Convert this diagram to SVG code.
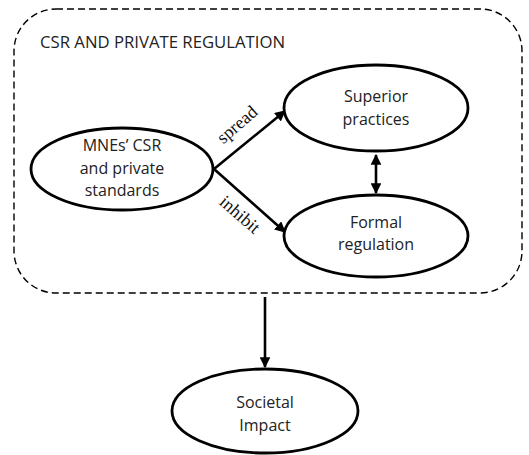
<svg xmlns="http://www.w3.org/2000/svg" width="529" height="455" viewBox="0 0 529 455">
<style>
.node{fill:#fff;stroke:#000;stroke-width:2.8}
.t{font-family:"Open Sans","Liberation Sans",sans-serif;font-size:16px;fill:#222;text-anchor:middle}
.lbl{font-family:"Liberation Serif","Times New Roman",serif;font-size:18px;fill:#111;text-anchor:middle}
.c{stroke:#000;stroke-width:2.6;fill:none}
</style>
<defs>
<marker id="ah" viewBox="0 0 10 10" refX="9" refY="5" markerWidth="4.2" markerHeight="4.2" orient="auto-start-reverse" markerUnits="strokeWidth">
<path d="M0,0 L10,5 L0,10 z" fill="#000"/>
</marker>
</defs>
<g id="container">
<rect x="14" y="9" width="508" height="284" rx="42" ry="42" fill="none" stroke="#000" stroke-width="1.4" stroke-dasharray="7,4"/>
<text x="40" y="48" font-family="Open Sans,Liberation Sans,sans-serif" font-size="15.5" fill="#222" textLength="245" lengthAdjust="spacingAndGlyphs">CSR AND PRIVATE REGULATION</text>
</g>
<g id="connectors">
<line class="c" x1="214" y1="169" x2="285" y2="111" marker-end="url(#ah)"/>
<line class="c" x1="214" y1="169" x2="285" y2="232" marker-end="url(#ah)"/>
<line class="c" x1="376" y1="155" x2="376" y2="193" marker-start="url(#ah)" marker-end="url(#ah)"/>
<line class="c" x1="265" y1="297" x2="265" y2="367" marker-end="url(#ah)"/>
<text class="lbl" transform="translate(241,129) rotate(-41)">spread</text>
<text class="lbl" transform="translate(236,219) rotate(41)">inhibit</text>
</g>
<g id="mnes">
<ellipse class="node" cx="122" cy="169" rx="91" ry="41"/>
<text class="t" x="122" y="151">MNEs’ CSR</text>
<text class="t" x="122" y="174">and private</text>
<text class="t" x="122" y="196">standards</text>
</g>
<g id="superior">
<ellipse class="node" cx="376" cy="108" rx="92" ry="43"/>
<text class="t" x="376" y="102">Superior</text>
<text class="t" x="376" y="125">practices</text>
</g>
<g id="formal">
<ellipse class="node" cx="376" cy="236" rx="92" ry="41"/>
<text class="t" x="376" y="228">Formal</text>
<text class="t" x="376" y="250">regulation</text>
</g>
<g id="societal">
<ellipse class="node" cx="265" cy="411" rx="93" ry="42"/>
<text class="t" x="265" y="408">Societal</text>
<text class="t" x="265" y="431">Impact</text>
</g>
</svg>
